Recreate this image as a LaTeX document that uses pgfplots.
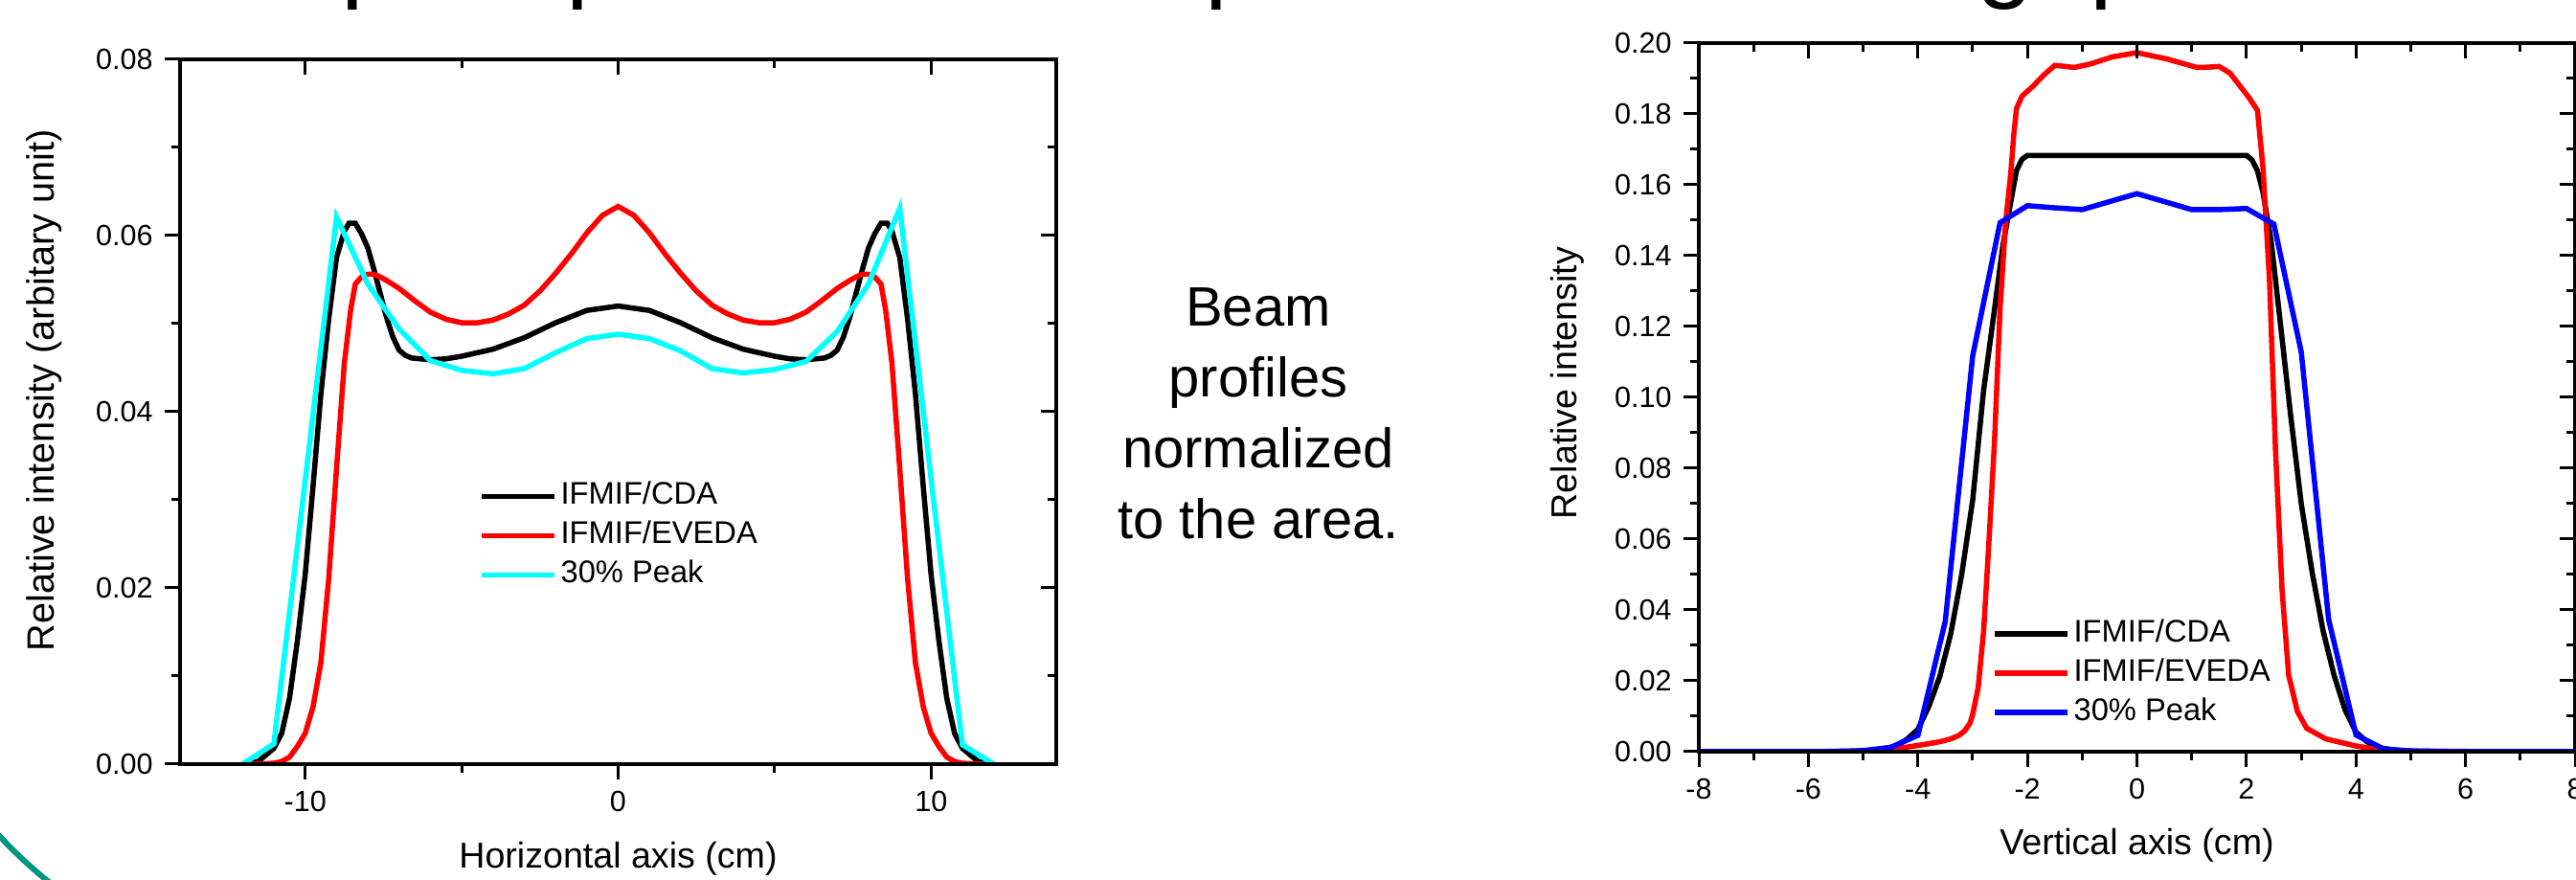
\documentclass[border=0pt]{standalone}
\usepackage{pgfplots}
\pgfplotsset{compat=1.18}
\usepackage{fontspec}
\setmainfont{Liberation Sans}

\definecolor{slideteal}{HTML}{00957F}
\definecolor{pcyan}{RGB}{0,255,255}
\definecolor{pblue}{RGB}{0,0,255}
\definecolor{pred}{RGB}{255,0,0}

\pgfplotsset{
  profile/.style={
    scale only axis,
    width=91.5mm,
    axis line style={line width=0.35mm},
    tick style={black, line width=0.3mm},
    major tick length=1.6mm,
    minor tick length=0.9mm,
    tick label style={font=\fontsize{8.7}{10}\selectfont},
    label style={font=\fontsize{10.7}{13}\selectfont},
    /pgf/number format/assume math mode=true,
    scaled ticks=false,
    yticklabel style={/pgf/number format/fixed, /pgf/number format/fixed zerofill, /pgf/number format/precision=2},
    minor x tick num=1,
    minor y tick num=1,
    legend cell align=left,
    legend image code/.code={\draw[#1] (0mm,0mm) -- (7.6mm,0mm);},
    legend style={draw=none, fill=none, inner sep=0pt, anchor=north west,
      font=\fontsize{9.3}{11}\selectfont, row sep=1.05mm, column sep=0.4mm,
      nodes={inner sep=0pt, text height=2.35mm, text depth=0.7mm}},
    every axis plot/.append style={line width=0.55mm},
  },
  outerticks/.style={profile, tick align=outside, xtick pos=left, ytick pos=left},
  innerticks/.style={profile, tick align=inside, xtick pos=right, ytick pos=right,
    xticklabels={}, yticklabels={}},
}

\begin{document}
\begin{tikzpicture}
\useasboundingbox (0,0) rectangle (269mm,91.9mm);
\clip (0,0) rectangle (269mm,91.9mm);

% cut-off slide title and decoration
\node[anchor=base west, inner sep=0pt, font=\fontsize{30.2}{36}\selectfont] at (14.3mm,93.0mm)
  {Footprint profiles at the peak: uniform or gap};
\draw[slideteal, line width=0.6mm] (36.5mm,38.7mm) ++(212:50mm) arc[start angle=212, end angle=240, radius=50mm];

% middle text
\begin{scope}[every node/.style={anchor=base, inner sep=0pt, font=\fontsize{16.5}{20}\selectfont}]
\node at (131.4mm,57.8mm) {Beam};
\node at (131.4mm,50.4mm) {profiles};
\node at (131.4mm,43.0mm) {normalized};
\node at (131.4mm,35.6mm) {to the area.};
\end{scope}

% ---------- horizontal profile ----------
\begin{axis}[outerticks,
  at={(18.8mm,12.1mm)}, anchor=south west, height=73.6mm,
  xmin=-14, xmax=14, ymin=0, ymax=0.08,
  xtick={-10,0,10}, ytick={0,0.02,...,0.08},
  xlabel={Horizontal axis (cm)},
  ylabel={Relative intensity (arbitary unit)},
  xlabel style={at={(axis description cs:0.5,-0.1345)}, anchor=center},
  ylabel style={at={(axis description cs:-0.155,0.53)}, anchor=center, font=\fontsize{11.3}{13}\selectfont},
  legend style={at={(axis cs:-4.47,0.0321)}},
]
\addplot[black] coordinates {
(-12,0) (-11.5,0.0003) (-11,0.0018) (-10.75,0.0035) (-10.5,0.0075) (-10.25,0.0140)
(-10,0.0215) (-9.75,0.0315) (-9.5,0.0420) (-9.25,0.0505) (-9,0.0575) (-8.75,0.0605)
(-8.6,0.0614) (-8.4,0.0614) (-8.2,0.0602) (-8,0.0586) (-7.8,0.0561) (-7.6,0.0534)
(-7.4,0.0507) (-7.2,0.0485) (-7,0.0470) (-6.8,0.0464) (-6.6,0.0461) (-6,0.0459)
(-5.5,0.0460) (-5,0.0463) (-4,0.0471) (-3,0.0484) (-2,0.0501) (-1,0.0515) (0,0.0520)
(1,0.0515) (2,0.0501) (3,0.0484) (4,0.0471) (5,0.0463) (5.5,0.0460) (6,0.0459)
(6.6,0.0461) (6.8,0.0464) (7,0.0470) (7.2,0.0485) (7.4,0.0507) (7.6,0.0534) (7.8,0.0561)
(8,0.0586) (8.2,0.0602) (8.4,0.0614) (8.6,0.0614) (8.75,0.0605) (9,0.0575) (9.25,0.0505)
(9.5,0.0420) (9.75,0.0315) (10,0.0215) (10.25,0.0140) (10.5,0.0075) (10.75,0.0035)
(11,0.0018) (11.5,0.0003) (12,0)
};
\addlegendentry{IFMIF/CDA}
\addplot[pred] coordinates {
(-12,0) (-11.5,0) (-11,0.0001) (-10.75,0.0003) (-10.5,0.0008) (-10.25,0.0020)
(-10,0.0035) (-9.75,0.0065) (-9.5,0.0115) (-9.25,0.0210) (-9,0.0335) (-8.75,0.0455)
(-8.55,0.0515) (-8.4,0.0545) (-8.2,0.0553) (-8,0.0556) (-7.8,0.0556) (-7.6,0.0553)
(-7.4,0.0549) (-7,0.0540) (-6.5,0.0526) (-6,0.0513) (-5.5,0.0505) (-5,0.0501)
(-4.5,0.0501) (-4,0.0504) (-3.5,0.0511) (-3,0.0521) (-2.5,0.0537) (-2,0.0557)
(-1.5,0.0579) (-1,0.0603) (-0.5,0.0623) (0,0.0633)
(0.5,0.0623) (1,0.0603) (1.5,0.0579) (2,0.0557) (2.5,0.0537) (3,0.0521) (3.5,0.0511)
(4,0.0504) (4.5,0.0501) (5,0.0501) (5.5,0.0505) (6,0.0513) (6.5,0.0526) (7,0.0540)
(7.4,0.0549) (7.6,0.0553) (7.8,0.0556) (8,0.0556) (8.2,0.0553) (8.4,0.0545) (8.55,0.0515)
(8.75,0.0455) (9,0.0335) (9.25,0.0210) (9.5,0.0115) (9.75,0.0065) (10,0.0035)
(10.25,0.0020) (10.5,0.0008) (10.75,0.0003) (11,0.0001) (11.5,0) (12,0)
};
\addlegendentry{IFMIF/EVEDA}
\addplot[pcyan] coordinates {
(-12,0) (-11,0.0023) (-10,0.0322) (-9,0.0621) (-8,0.0545) (-7,0.0494) (-6,0.0458)
(-5,0.0447) (-4,0.0443) (-3,0.0449) (-2,0.0467) (-1,0.0483) (0,0.0488) (1,0.0483)
(2,0.0469) (3,0.0449) (4,0.0444) (5,0.0448) (6,0.0457) (7,0.0491) (8,0.0545)
(9,0.0631) (10,0.0324) (11,0.0022) (12,0)
};
\addlegendentry{30\% Peak}
\end{axis}
\begin{axis}[innerticks,
  at={(18.8mm,12.1mm)}, anchor=south west, height=73.6mm,
  xmin=-14, xmax=14, ymin=0, ymax=0.08,
  xtick={-10,0,10}, ytick={0,0.02,...,0.08},
]
\end{axis}

% ---------- vertical profile ----------
\begin{axis}[outerticks,
  at={(177.4mm,13.4mm)}, anchor=south west, height=74.0mm,
  xmin=-8, xmax=8, ymin=0, ymax=0.2,
  xtick={-8,-6,...,8}, ytick={0,0.02,...,0.2},
  xlabel={Vertical axis (cm)},
  ylabel={Relative intensity},
  xlabel style={at={(axis description cs:0.5,-0.1324)}, anchor=center},
  ylabel style={at={(axis description cs:-0.1497,0.52)}, anchor=center},
  legend style={at={(axis cs:-2.66,0.0375)}},
]
\addplot[black] coordinates {
(-8,0) (-6,0) (-5.2,0.0001) (-4.7,0.0005) (-4.4,0.0016) (-4.2,0.0035) (-4,0.0063)
(-3.8,0.0128) (-3.6,0.0212) (-3.4,0.0333) (-3.2,0.0500) (-3,0.0710) (-2.8,0.1020)
(-2.6,0.1250) (-2.45,0.1427) (-2.3,0.1556) (-2.2,0.1640) (-2.1,0.1672) (-2,0.1683)
(2,0.1683) (2.1,0.1670) (2.2,0.1640) (2.3,0.1580) (2.45,0.1440) (2.6,0.1235)
(2.8,0.0957) (3,0.0700) (3.2,0.0505) (3.4,0.0340) (3.6,0.0215) (3.8,0.0118)
(4,0.0055) (4.2,0.0028) (4.4,0.0012) (4.7,0.0004) (5.2,0.0001) (6,0) (8,0)
};
\addlegendentry{IFMIF/CDA}
\addplot[pred] coordinates {
(-8,0) (-5.5,0) (-5,0.0001) (-4.5,0.0006) (-4.2,0.0013) (-3.9,0.0020) (-3.6,0.0028)
(-3.4,0.0036) (-3.25,0.0046) (-3.15,0.0058) (-3.05,0.0080) (-3,0.0105) (-2.9,0.0180)
(-2.8,0.0340) (-2.7,0.0600) (-2.6,0.0880) (-2.5,0.1250) (-2.4,0.1490) (-2.3,0.1640)
(-2.25,0.1740) (-2.2,0.1815) (-2.1,0.1850) (-1.9,0.1878) (-1.7,0.1910) (-1.5,0.1937)
(-1.3,0.1934) (-1.15,0.1931) (-0.85,0.1941) (-0.45,0.1961) (0,0.1973) (0.55,0.1955)
(1.1,0.1931) (1.3,0.1932) (1.5,0.1934) (1.7,0.1915) (1.85,0.1885) (2.05,0.1845)
(2.2,0.1810) (2.3,0.1650) (2.42,0.1330) (2.53,0.0850) (2.65,0.0455) (2.77,0.0216)
(2.93,0.0113) (3.1,0.0066) (3.45,0.0036) (4,0.0016) (4.5,0.0004) (5,0.0001) (8,0)
};
\addlegendentry{IFMIF/EVEDA}
\addplot[pblue] coordinates {
(-8,0) (-6,0) (-5.5,0.0001) (-5,0.0003) (-4.5,0.0012) (-4,0.0046) (-3.5,0.0368)
(-3,0.1117) (-2.5,0.1493) (-2,0.1541) (-1.5,0.1535) (-1,0.1530) (0,0.1575) (1,0.1530)
(1.5,0.1530) (2,0.1533) (2.5,0.1489) (3,0.1128) (3.5,0.0373) (4,0.0047) (4.5,0.0008)
(5,0.0002) (6,0) (8,0)
};
\addlegendentry{30\% Peak}
\end{axis}
\begin{axis}[innerticks,
  at={(177.4mm,13.4mm)}, anchor=south west, height=74.0mm,
  xmin=-8, xmax=8, ymin=0, ymax=0.2,
  xtick={-8,-6,...,8}, ytick={0,0.02,...,0.2},
]
\end{axis}
\end{tikzpicture}
\end{document}
